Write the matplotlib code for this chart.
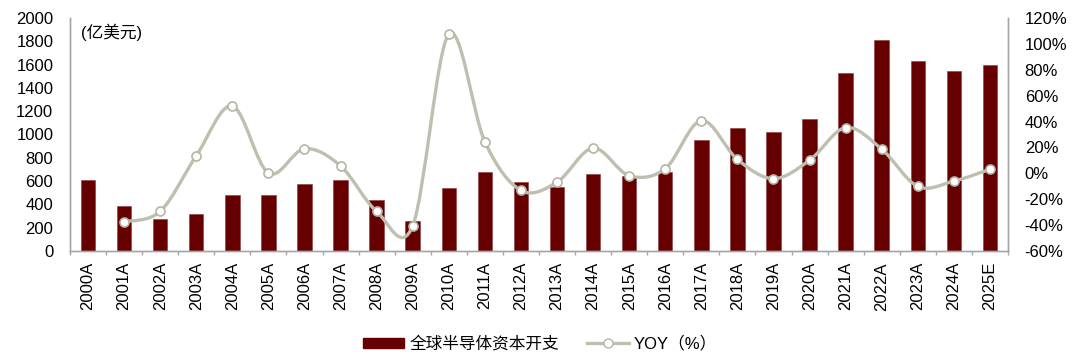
import matplotlib.pyplot as plt
from matplotlib.path import Path
from matplotlib.patches import PathPatch
from matplotlib.lines import Line2D
from matplotlib.patches import Patch
from matplotlib.ticker import FuncFormatter

plt.rcParams['font.family'] = ['Liberation Sans', 'Noto Sans CJK SC', 'DejaVu Sans']

# data
years = ['2000A', '2001A', '2002A', '2003A', '2004A', '2005A', '2006A', '2007A',
         '2008A', '2009A', '2010A', '2011A', '2012A', '2013A', '2014A', '2015A',
         '2016A', '2017A', '2018A', '2019A', '2020A', '2021A', '2022A', '2023A',
         '2024A', '2025E']
capex = [609, 386, 275, 315, 478, 481, 578, 609, 435, 260, 538, 675, 590, 552,
         661, 640, 675, 953, 1058, 1021, 1130, 1528, 1811, 1633, 1545, 1594]
yoy = [None, -37.4, -29.4, 13.5, 52.0, 0.2, 19.0, 5.7, -29.4, -40.5, 107.6, 24.4,
       -13.2, -6.8, 19.5, -1.8, 3.6, 40.8, 10.7, -4.1, 10.1, 35.3, 18.7, -10.1,
       -6.0, 3.1]

bar_color = '#660000'
line_color = '#BFBFB0'
axis_color = '#A6A6A6'

fig = plt.figure(figsize=(10.8, 3.59), dpi=100)
ax = fig.add_axes([0.0648, 0.3008, 0.8685, 0.6491])
ax2 = ax.twinx()

x = list(range(len(years)))
ax.bar(x, capex, width=0.4, color=bar_color, edgecolor='#8B3A3A', linewidth=0.4, zorder=2)
ax.set_xlim(-0.5, len(years) - 0.5)
ax.set_ylim(0, 2000)
ax.set_yticks(range(0, 2001, 200))
ax.set_xticks(x)
ax.set_xticklabels(years, rotation=90, fontsize=12)
ax.set_xticks([i + 0.5 for i in range(-1, len(years))], minor=True)
ax.tick_params(axis='x', which='major', length=0, pad=8)
ax.tick_params(axis='x', which='minor', length=3, color=axis_color, width=1)
ax.tick_params(axis='y', length=0, pad=12, labelsize=12)

# smoothed YOY line (Excel-style cubic Bezier through the points)
px = [i for i, v in enumerate(yoy) if v is not None]
py = [v for v in yoy if v is not None]
verts = [(px[0], py[0])]
codes = [Path.MOVETO]
n = len(px)
for i in range(n - 1):
    p0 = (px[max(i - 1, 0)], py[max(i - 1, 0)])
    p1 = (px[i], py[i])
    p2 = (px[i + 1], py[i + 1])
    p3 = (px[min(i + 2, n - 1)], py[min(i + 2, n - 1)])
    c1 = (p1[0] + (p2[0] - p0[0]) / 6, p1[1] + (p2[1] - p0[1]) / 6)
    c2 = (p2[0] - (p3[0] - p1[0]) / 6, p2[1] - (p3[1] - p1[1]) / 6)
    verts += [c1, c2, p2]
    codes += [Path.CURVE4] * 3
ax2.add_patch(PathPatch(Path(verts, codes), facecolor='none', edgecolor=line_color,
                        linewidth=2.4, zorder=3, capstyle='round'))
ax2.plot(px, py, linestyle='none', marker='o', markersize=6.5,
         markerfacecolor='white', markeredgecolor='#B5B5A5', markeredgewidth=1.2, zorder=4)
ax2.set_ylim(-60, 120)
ax2.set_yticks(range(-60, 121, 20))
ax2.yaxis.set_major_formatter(FuncFormatter(lambda v, p: f'{int(v)}%'))
ax2.tick_params(axis='y', length=0, pad=12, labelsize=12)

for a in (ax, ax2):
    a.spines['top'].set_visible(False)
    for s in ('left', 'right', 'bottom'):
        a.spines[s].set_color(axis_color)
        a.spines[s].set_linewidth(1)

ax.text(0.012, 0.975, '(亿美元)', transform=ax.transAxes, fontsize=12,
        ha='left', va='top')

handles = [Patch(facecolor=bar_color, edgecolor=bar_color),
           Line2D([], [], color=line_color, linewidth=2.4, marker='o', markersize=6.5,
                  markerfacecolor='white', markeredgecolor='#B5B5A5')]
fig.legend(handles, ['全球半导体资本开支', 'YOY（%）'], loc='center',
           bbox_to_anchor=(0.5, 0.042), ncol=2, frameon=False, fontsize=12,
           handlelength=2.5, handleheight=0.6, handletextpad=0.3, columnspacing=1.7)

fig.savefig('out.png', dpi=100)
